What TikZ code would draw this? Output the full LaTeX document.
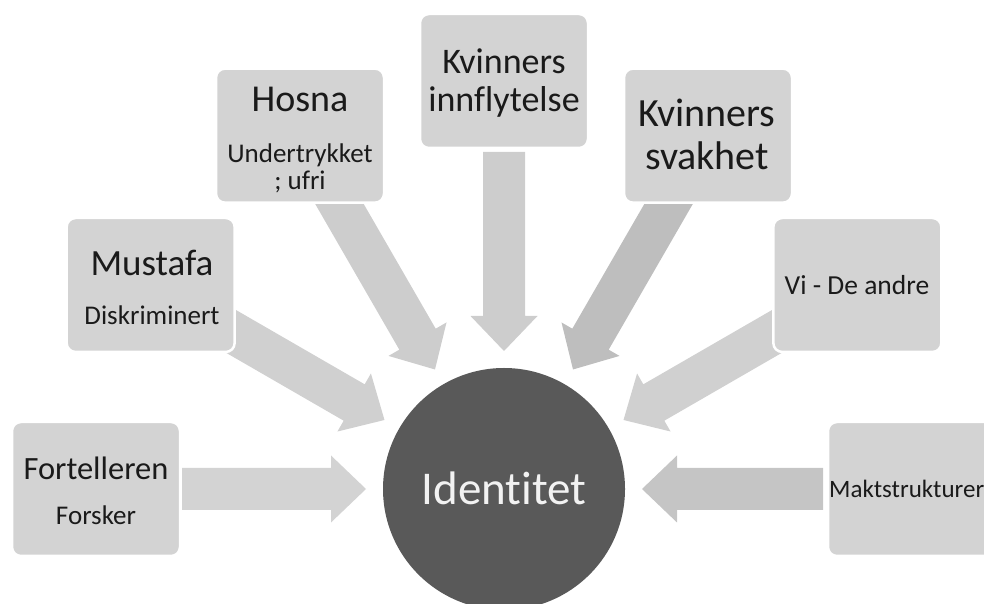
\documentclass[tikz,border=0pt]{standalone}
\usepackage{fontspec}
\setmainfont{Carlito}[Ligatures=NoCommon]
\usetikzlibrary{calc}
\definecolor{boxgray}{HTML}{D3D3D3}
\definecolor{circgray}{HTML}{595959}
\definecolor{txt}{HTML}{1A1A1A}
\definecolor{arA}{HTML}{D3D3D3}
\definecolor{arB}{HTML}{D0D0D0}
\definecolor{arC}{HTML}{CDCDCD}
\definecolor{arD}{HTML}{BEBEBE}
\definecolor{arE}{HTML}{C5C5C5}
\begin{document}
\begin{tikzpicture}[x=1pt,y=1pt,
  box/.style={draw=white, line width=2.5pt, fill=boxgray, rounded corners=9pt,
    minimum width=168pt, minimum height=134pt, inner sep=0pt},
  lbl/.style={anchor=base, text=txt, inner sep=0pt, align=center},
  fs/.style={font=\fontsize{#1}{#1}\selectfont}]
\useasboundingbox (0,0) rectangle (984,604);
\clip (0,0) rectangle (984,604);
\coordinate (C) at (504,115);

% block arrows (drawn behind the boxes)
\foreach \ang/\col/\tail in {180/arA/322, 150/arB/345, 120/arC/345, 90/arC/337, 60/arD/345, 30/arB/345, 0/arE/319}
  \fill[\col, shift={(C)}, rotate=\ang]
    (138,0) -- (173,33.5) -- (173,21) -- (\tail,21) -- (\tail,-21) -- (173,-21) -- (173,-33.5) -- cycle;

% centre
\node[circle, fill=circgray, minimum size=242pt, inner sep=0pt] (id) at (C) {};
\node[lbl, fs=47, text=white!95!black] (idt) at (504,99) {Identitet};

% boxes
\node[box] (b1) at ([shift={(180:408)}]C) {};
\node[box] (b2) at ([shift={(150:408)}]C) {};
\node[box] (b3) at ([shift={(120:408)}]C) {};
\node[box] (b4) at ([shift={(90:408)}]C) {};
\node[box] (b5) at ([shift={(60:408)}]C) {};
\node[box] (b6) at ([shift={(30:408)}]C) {};
\node[box] (b7) at ([shift={(0:408)}]C) {};

% texts
\node[lbl, fs=32.5] (t1a) at (96,124) {Fortelleren};
\node[lbl, fs=27] (t1b) at (96,79) {Forsker};

\node[lbl, fs=37] (t2a) at (152,328) {Mustafa};
\node[lbl, fs=27] (t2b) at (152,279) {Diskriminert};

\node[lbl, fs=38] (t3a) at (300,492) {Hosna};
\node[lbl, fs=27] (t3b) at (300,441) {Undertrykket};
\node[lbl, fs=27] (t3c) at (300,414) {; ufri};

\node[lbl, fs=36] (t4a) at (504,530) {Kvinners};
\node[lbl, fs=36] (t4b) at (504,492) {innflytelse};

\node[lbl, fs=40] (t5a) at (707,477) {Kvinners};
\node[lbl, fs=40] (t5b) at (707,434) {svakhet};

\node[lbl, fs=27.5] (t6) at (857,309) {Vi - De andre};

\node[lbl, fs=25, anchor=base west] (t7) at (829,106) {Maktstrukturer};
\end{tikzpicture}
\end{document}
